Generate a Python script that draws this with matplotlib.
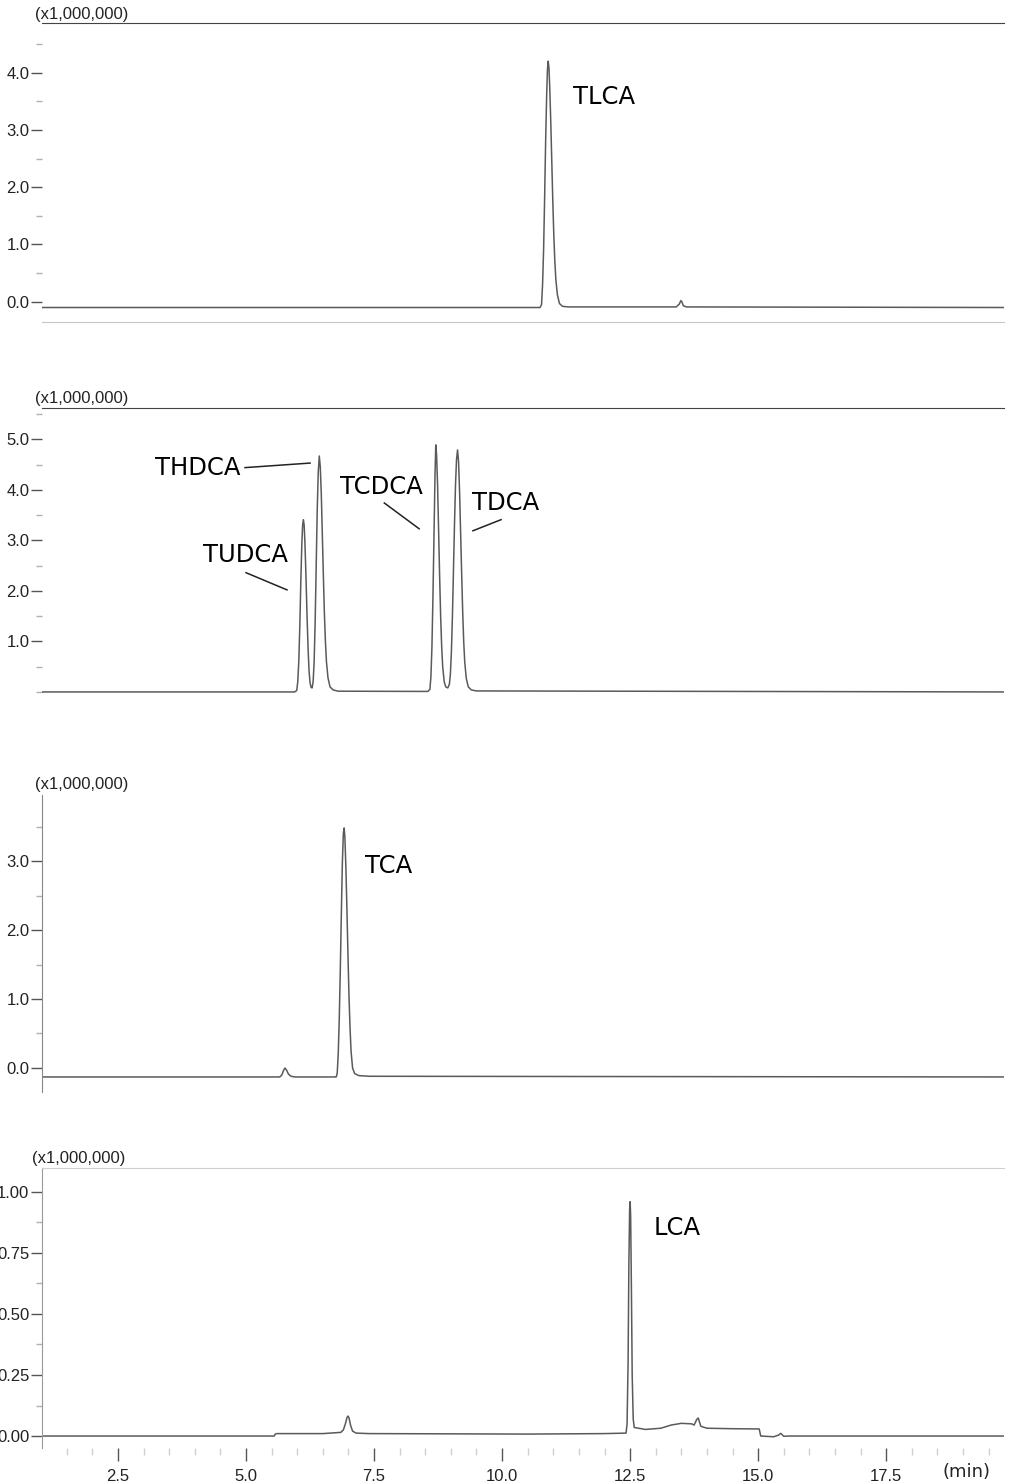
import matplotlib
matplotlib.use("Agg")
import matplotlib.pyplot as plt
from matplotlib.ticker import MultipleLocator, FixedLocator

W, H = 1010, 1484

# retention time (min) / intensity (x1,000,000)
t_top = [1.0, 10.74, 10.77, 10.79, 10.81, 10.83, 10.85, 10.87, 10.885, 10.90, 10.915,
         10.93, 10.95, 10.97, 10.99, 11.01, 11.03, 11.05, 11.08, 11.12, 11.18, 11.3,
         13.40, 13.46, 13.49, 13.51, 13.54, 13.60, 19.8]
i_top = [-0.10, -0.10, -0.05, 0.3, 0.9, 1.8, 2.8, 3.6, 4.05, 4.2, 4.08,
         3.75, 3.15, 2.45, 1.75, 1.15, 0.7, 0.38, 0.12, -0.03, -0.08, -0.09,
         -0.09, -0.04, 0.02, 0.0, -0.07, -0.09, -0.10]

t_mid = [1.0, 5.95, 5.99, 6.01, 6.03, 6.05, 6.07, 6.09, 6.105, 6.12, 6.135, 6.15, 6.17,
         6.19, 6.21, 6.23, 6.25, 6.27, 6.29, 6.31, 6.33, 6.35, 6.37, 6.39, 6.41, 6.43,
         6.45, 6.47, 6.49, 6.51, 6.53, 6.55, 6.57, 6.60, 6.64, 6.70, 6.8,
         8.55, 8.59, 8.61, 8.63, 8.65, 8.67, 8.69, 8.705, 8.72, 8.74, 8.76, 8.78, 8.80,
         8.82, 8.84, 8.87, 8.90, 8.94, 8.97, 8.99, 9.01, 9.03, 9.05, 9.07, 9.09, 9.11,
         9.13, 9.15, 9.17, 9.19, 9.21, 9.23, 9.25, 9.27, 9.30, 9.34, 9.40, 9.5, 19.8]
i_mid = [0.0, 0.0, 0.03, 0.2, 0.6, 1.3, 2.2, 2.95, 3.3, 3.41, 3.3, 2.95, 2.3,
         1.55, 0.9, 0.42, 0.18, 0.09, 0.08, 0.2, 0.6, 1.4, 2.5, 3.6, 4.35, 4.67,
         4.45, 3.9, 3.1, 2.3, 1.55, 1.0, 0.6, 0.28, 0.1, 0.04, 0.015,
         0.01, 0.05, 0.3, 0.9, 1.9, 3.1, 4.3, 4.89, 4.7, 4.1, 3.2, 2.3, 1.5,
         0.9, 0.5, 0.2, 0.1, 0.08, 0.15, 0.35, 0.8, 1.5, 2.4, 3.3, 4.1, 4.6,
         4.79, 4.55, 3.95, 3.15, 2.35, 1.6, 1.0, 0.6, 0.27, 0.1, 0.04, 0.02, 0.0]

t_tca = [1.0, 5.66, 5.70, 5.73, 5.76, 5.79, 5.83, 5.88, 5.95, 6.76, 6.78, 6.80, 6.82,
         6.84, 6.86, 6.88, 6.90, 6.915, 6.93, 6.95, 6.97, 6.99, 7.01, 7.03, 7.05,
         7.08, 7.12, 7.2, 7.4, 19.8]
i_tca = [-0.13, -0.13, -0.10, -0.04, 0.0, -0.03, -0.09, -0.12, -0.13, -0.13, -0.08, 0.2, 0.7,
         1.4, 2.2, 2.95, 3.4, 3.48, 3.35, 2.9, 2.3, 1.65, 1.05, 0.6, 0.25,
         0.0, -0.08, -0.11, -0.12, -0.13]

t_lca = [1.0, 5.55, 5.57, 5.6, 6.5, 6.85, 6.9, 6.94, 6.97, 6.99, 7.01, 7.04, 7.08, 7.15,
         7.4, 10.5, 12.0, 12.42, 12.44, 12.46, 12.475, 12.49, 12.50, 12.51, 12.525,
         12.54, 12.56, 12.58, 12.8, 13.1, 13.3, 13.5, 13.7, 13.75, 13.80, 13.83, 13.88,
         14.0, 14.5, 15.02, 15.05, 15.3, 15.4, 15.44, 15.5, 15.6, 19.8]
i_lca = [0.0, 0.0, 0.008, 0.01, 0.01, 0.015, 0.025, 0.05, 0.075, 0.082, 0.075, 0.045, 0.02, 0.012,
         0.01, 0.008, 0.01, 0.012, 0.05, 0.3, 0.7, 0.93, 0.96, 0.9, 0.6,
         0.25, 0.07, 0.035, 0.027, 0.032, 0.045, 0.052, 0.05, 0.045, 0.068, 0.074, 0.04,
         0.032, 0.03, 0.029, 0.0, -0.003, 0.004, 0.011, -0.001, 0.0, 0.0]

peak_names = ["TLCA", "THDCA", "TUDCA", "TCDCA", "TDCA", "TCA", "LCA"]

x_ticks = [2.5, 5.0, 7.5, 10.0, 12.5, 15.0, 17.5]
x_labels = ["2.5", "5.0", "7.5", "10.0", "12.5", "15.0", "17.5"]

tick_font = ["Liberation Sans", "DejaVu Sans"]
lab_font = "DejaVu Sans"
trace_col = "#5a5a5a"

fig = plt.figure(figsize=(W / 100, H / 100), dpi=100)


def box(top, bottom):
    return [42 / W, 1 - bottom / H, 962 / W, (bottom - top) / H]


def setup(ax, ylim, yt, ylab, minor):
    ax.set_xlim(1.016, 19.8)
    ax.set_ylim(*ylim)
    for s in ax.spines.values():
        s.set_visible(False)
    ax.yaxis.set_major_locator(FixedLocator(yt))
    ax.set_yticklabels(ylab, fontsize=12, family=tick_font, color="#222")
    ax.yaxis.set_minor_locator(MultipleLocator(minor))
    ax.tick_params(axis="y", which="major", length=8, width=1, color="#555", pad=1)
    ax.tick_params(axis="y", which="minor", length=4, width=1, color="#b0b0b0")
    ax.set_xticks([])
    ax.set_xticks([], minor=True)


def scale_label(top_px, x_px=35):
    fig.text(x_px / W, 1 - (top_px - 9) / H, "(x1,000,000)", fontsize=12,
             family=tick_font, color="#222", va="center", ha="left")


# panel 1 - TLCA
ax1 = fig.add_axes(box(23, 322))
setup(ax1, (-0.353, 4.866), [0, 1, 2, 3, 4], ["0.0", "1.0", "2.0", "3.0", "4.0"], 0.5)
ax1.spines["top"].set_visible(True)
ax1.spines["top"].set_color("#444")
ax1.spines["bottom"].set_visible(True)
ax1.spines["bottom"].set_color("#c8c8c8")
ax1.plot(t_top, i_top, color=trace_col, lw=1.1)
ax1.text(11.39, 3.57, peak_names[0], fontsize=17.5, family=lab_font, va="center")
scale_label(23)

# panel 2 - THDCA / TUDCA / TCDCA / TDCA
ax2 = fig.add_axes(box(408, 697))
setup(ax2, (-0.1, 5.62), [1, 2, 3, 4, 5], ["1.0", "2.0", "3.0", "4.0", "5.0"], 0.5)
ax2.spines["top"].set_visible(True)
ax2.spines["top"].set_color("#444")
ax2.plot(t_mid, i_mid, color=trace_col, lw=1.1)
ax2.text(3.22, 4.44, peak_names[1], fontsize=17.5, family=lab_font, va="center")
ax2.plot([4.98, 6.25], [4.44, 4.53], color="#222", lw=1.1)
ax2.text(4.16, 2.71, peak_names[2], fontsize=17.5, family=lab_font, va="center")
ax2.plot([5.0, 5.80], [2.36, 2.02], color="#222", lw=1.1)
ax2.text(6.84, 4.06, peak_names[3], fontsize=17.5, family=lab_font, va="center")
ax2.plot([7.70, 8.38], [3.74, 3.23], color="#222", lw=1.1)
ax2.text(9.41, 3.74, peak_names[4], fontsize=17.5, family=lab_font, va="center")
ax2.plot([9.43, 9.98], [3.19, 3.41], color="#222", lw=1.1)
scale_label(408)

# panel 3 - TCA
ax3 = fig.add_axes(box(795, 1092))
setup(ax3, (-0.348, 3.957), [0, 1, 2, 3], ["0.0", "1.0", "2.0", "3.0"], 0.5)
ax3.spines["left"].set_visible(True)
ax3.spines["left"].set_color("#888")
ax3.plot(t_tca, i_tca, color=trace_col, lw=1.1)
ax3.text(7.32, 2.93, peak_names[5], fontsize=17.5, family=lab_font, va="center")
scale_label(793)

# panel 4 - LCA
ax4 = fig.add_axes(box(1168, 1448))
setup(ax4, (-0.049, 1.098), [0, 0.25, 0.5, 0.75, 1.0],
      ["0.00", "0.25", "0.50", "0.75", "1.00"], 0.125)
ax4.spines["left"].set_visible(True)
ax4.spines["left"].set_color("#999")
ax4.spines["top"].set_visible(True)
ax4.spines["top"].set_color("#cfcfcf")
ax4.plot(t_lca, i_lca, color=trace_col, lw=1.1)
ax4.text(12.95, 0.852, peak_names[6], fontsize=17.5, family=lab_font, va="center")
ax4.set_xticks(x_ticks)
ax4.set_xticklabels(x_labels, fontsize=12, family=tick_font, color="#222")
ax4.xaxis.set_minor_locator(MultipleLocator(0.5))
ax4.tick_params(axis="x", which="major", length=9, width=1, color="#555", pad=6)
ax4.tick_params(axis="x", which="minor", length=5, width=1, color="#d0d0d0")
scale_label(1168, 32)
fig.text(943 / W, 1 - 1472 / H, "(min)", fontsize=13, family=lab_font, color="#222",
         va="center", ha="left")

fig.savefig("out.png", dpi=100, facecolor="white")
